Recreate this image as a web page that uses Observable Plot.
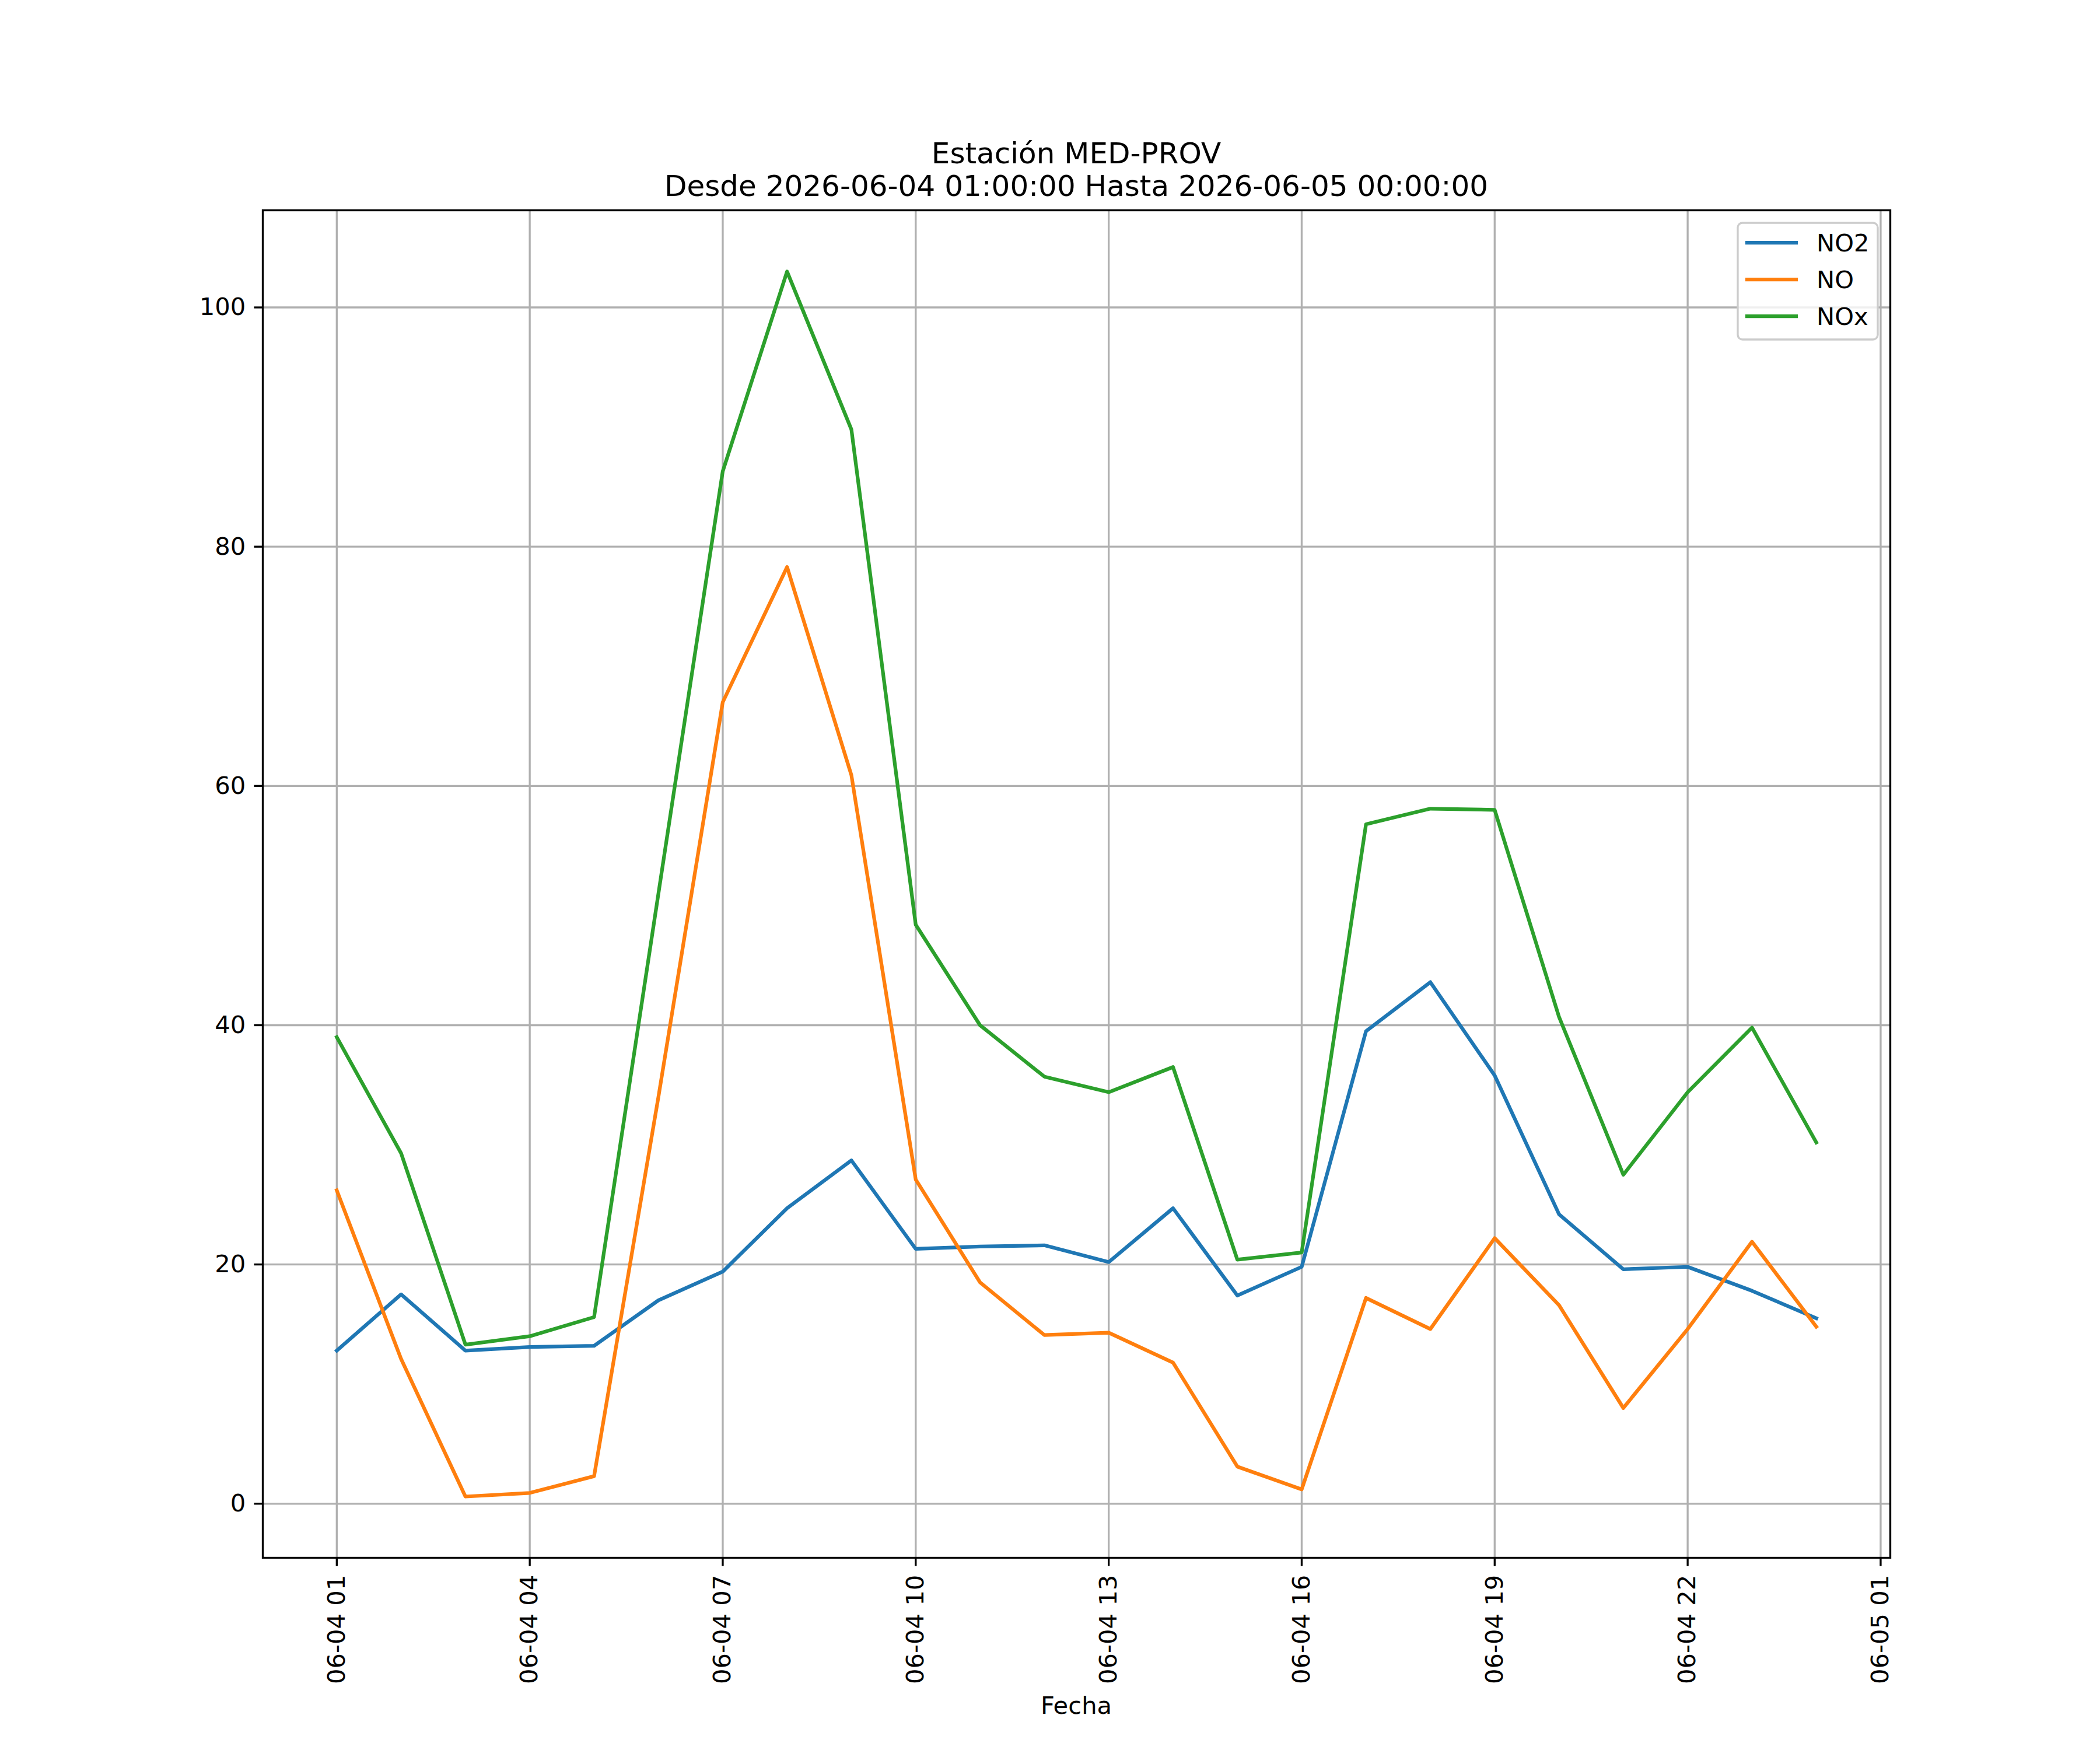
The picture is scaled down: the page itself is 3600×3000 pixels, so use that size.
<!DOCTYPE html>
<html><head><meta charset="utf-8">
<script src="https://cdn.jsdelivr.net/npm/d3@7"></script>
<script src="https://cdn.jsdelivr.net/npm/@observablehq/plot@0.6"></script>
<style>
body{margin:0;background:#fff;}
#wrap{position:relative;width:3600px;height:3000px;background:#fff;}
</style></head><body><div id="wrap"></div>
<script>
const fechas = [
  "2026-06-04T01:00:00Z","2026-06-04T02:00:00Z","2026-06-04T03:00:00Z","2026-06-04T04:00:00Z",
  "2026-06-04T05:00:00Z","2026-06-04T06:00:00Z","2026-06-04T07:00:00Z","2026-06-04T08:00:00Z",
  "2026-06-04T09:00:00Z","2026-06-04T10:00:00Z","2026-06-04T11:00:00Z","2026-06-04T12:00:00Z",
  "2026-06-04T13:00:00Z","2026-06-04T14:00:00Z","2026-06-04T15:00:00Z","2026-06-04T16:00:00Z",
  "2026-06-04T17:00:00Z","2026-06-04T18:00:00Z","2026-06-04T19:00:00Z","2026-06-04T20:00:00Z",
  "2026-06-04T21:00:00Z","2026-06-04T22:00:00Z","2026-06-04T23:00:00Z","2026-06-05T00:00:00Z"
];
const no2 = [12.8, 17.5, 12.8, 13.1, 13.2, 17.0, 19.4, 24.7, 28.7, 21.3, 21.5, 21.6,
             20.2, 24.7, 17.4, 19.8, 39.5, 43.6, 35.8, 24.2, 19.6, 19.8, 17.8, 15.5];
const no  = [26.2, 12.1, 0.6, 0.9, 2.3, 34.0, 67.0, 78.3, 60.9, 27.1, 18.5, 14.1,
             14.3, 11.8, 3.1, 1.2, 17.2, 14.6, 22.2, 16.6, 8.0, 14.6, 21.9, 14.8];
const nox = [39.0, 29.3, 13.3, 14.0, 15.6, 51.0, 86.3, 103.0, 89.8, 48.4, 40.0, 35.7,
             34.4, 36.5, 20.4, 21.0, 56.8, 58.1, 58.0, 40.7, 27.5, 34.4, 39.8, 30.2];
const series = ["NO2", "NO", "NOx"];
const colors = ["#1f77b4", "#ff7f0e", "#2ca02c"];
const xTickLabels = ["2026-06-04T01:00:00Z","2026-06-04T04:00:00Z","2026-06-04T07:00:00Z",
  "2026-06-04T10:00:00Z","2026-06-04T13:00:00Z","2026-06-04T16:00:00Z","2026-06-04T19:00:00Z",
  "2026-06-04T22:00:00Z","2026-06-05T01:00:00Z"];
const yTicks = [0, 20, 40, 60, 80, 100];
const titulo1 = "Estación MED-PROV";
const titulo2 = "Desde 2026-06-04 01:00:00 Hasta 2026-06-05 00:00:00";
const xLabel = "Fecha";

const values = [no2, no, nox];
const rows = [];
series.forEach((s, i) => fechas.forEach((f, j) => rows.push({serie: s, date: new Date(f), value: values[i][j]})));
const xTicks = xTickLabels.map(d => new Date(d));

// matplotlib-like 5% margins
const dates = fechas.map(d => new Date(d));
const [tmin, tmax] = d3.extent(dates);
const tpad = (tmax - tmin) * 0.05;
const allV = rows.map(r => r.value);
const [vmin, vmax] = d3.extent(allV);
const vpad = (vmax - vmin) * 0.05;

const FS = 41.67, LW = 6.25, GW = 3.33, TS = 14.58;

const chart = Plot.plot({
  width: 3600, height: 3000,
  marginLeft: 450, marginRight: 360, marginTop: 360, marginBottom: 330,
  style: {fontFamily: "DejaVu Sans", fontSize: FS + "px", background: "transparent", color: "black"},
  x: {type: "utc", domain: [new Date(+tmin - tpad), new Date(+tmax + tpad)]},
  y: {domain: [vmin - vpad, vmax + vpad]},
  color: {domain: series, range: colors},
  marks: [
    Plot.gridX(xTicks, {stroke: "#b0b0b0", strokeOpacity: 1, strokeWidth: GW}),
    Plot.gridY(yTicks, {stroke: "#b0b0b0", strokeOpacity: 1, strokeWidth: GW}),
    Plot.line(rows, {x: "date", y: "value", stroke: "serie", z: "serie", strokeWidth: LW,
      strokeLinejoin: "round", strokeLinecap: "square"}),
    Plot.frame({stroke: "black", strokeWidth: GW}),
    Plot.axisX(xTicks, {tickFormat: d3.utcFormat("%m-%d %H"), tickRotate: -90, tickSize: TS,
      tickPadding: TS, strokeWidth: GW, label: null, fontSize: FS, fill: "black"}),
    Plot.axisY(yTicks, {tickSize: TS, tickPadding: TS, strokeWidth: GW, label: null, fontSize: FS, fill: "black"})
  ]
});
document.getElementById("wrap").appendChild(chart);

const svg = d3.select(chart);
const cx = (450 + 3240) / 2;
const tg = svg.append("g").attr("font-family", "DejaVu Sans").attr("fill", "black").attr("text-anchor", "middle");
tg.append("text").attr("x", cx).attr("y", 280).attr("font-size", 50).text(titulo1);
tg.append("text").attr("x", cx).attr("y", 336).attr("font-size", 50).text(titulo2);
tg.append("text").attr("x", cx).attr("y", 2938).attr("font-size", FS).text(xLabel);

// legend
const lg = svg.append("g").attr("font-family", "DejaVu Sans").attr("text-anchor", "start");
lg.append("rect").attr("x", 2979).attr("y", 382).attr("width", 240).attr("height", 200)
  .attr("rx", 8).attr("fill", "white").attr("fill-opacity", 0.8)
  .attr("stroke", "#cccccc").attr("stroke-width", GW);
series.forEach((s, i) => {
  const yc = 416 + i * 63;
  lg.append("line").attr("x1", 2992).attr("x2", 3082).attr("y1", yc).attr("y2", yc)
    .attr("stroke", colors[i]).attr("stroke-width", LW);
  lg.append("text").attr("x", 3114).attr("y", yc + 15).attr("font-size", FS)
    .attr("fill", "black").attr("text-anchor", "start").text(s);
});
</script></body></html>
